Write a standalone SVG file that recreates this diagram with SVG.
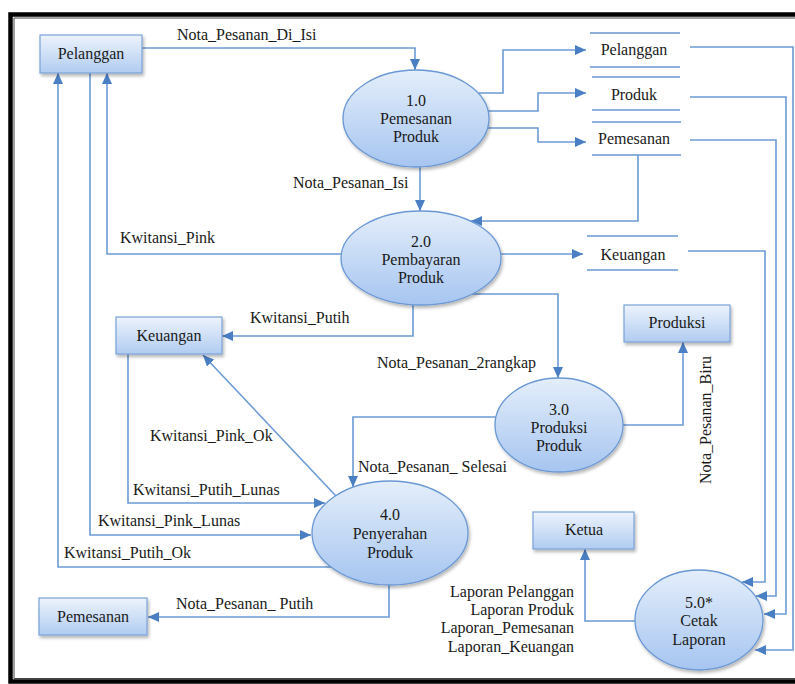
<svg xmlns="http://www.w3.org/2000/svg" width="795" height="684" viewBox="0 0 795 684">
  <defs>
    <linearGradient id="boxFill" x1="0" y1="0" x2="0" y2="1">
      <stop offset="0" stop-color="#edf3fc"/>
      <stop offset="1" stop-color="#b0ccf1"/>
    </linearGradient>
    <linearGradient id="procFill" x1="0" y1="0" x2="0" y2="1">
      <stop offset="0" stop-color="#e4eefb"/>
      <stop offset="1" stop-color="#a6c5f0"/>
    </linearGradient>
    <filter id="shadow" x="-20%" y="-20%" width="150%" height="160%">
      <feDropShadow dx="1.5" dy="2.5" stdDeviation="1.8" flood-color="#000" flood-opacity="0.28"/>
    </filter>
    <marker id="arrow" markerUnits="userSpaceOnUse" markerWidth="12" markerHeight="10" refX="11" refY="5" orient="auto">
      <path d="M0,0 L11,5 L0,10 z" fill="#4a7fc4"/>
    </marker>
    <style>
      text { font-family: "Liberation Serif", "Times New Roman", serif; font-size: 16px; fill: #1a1a1a; }
      .c { text-anchor: middle; }
      .r { text-anchor: end; }
      .box { fill: url(#boxFill); stroke: #7aa2d8; stroke-width: 1.2; filter: url(#shadow); }
      .proc { fill: url(#procFill); stroke: #6a98d4; stroke-width: 1.3; filter: url(#shadow); }
      .store { stroke: #6b96d2; stroke-width: 1.5; fill: none; }
      .flow { fill: none; stroke: #6c9bd6; stroke-width: 1.6; }
      .arr { marker-end: url(#arrow); }
    </style>
  </defs>

  <rect width="795" height="684" fill="#ffffff"/>

  <!-- page frame -->
  <path d="M795 14.5 H10.5 V681.5 H795" fill="none" stroke="#000" stroke-width="4.5"/>
  <path d="M795 18 H14 V678.5 H795" fill="none" stroke="#444" stroke-width="1"/>

  <!-- data flows -->
  <g id="connectors">
    <path class="flow arr" d="M142,48 H415 V70"/>
    <path class="flow arr" d="M479,93 H503 V50 H586"/>
    <path class="flow arr" d="M488,111 H538 V93 H586"/>
    <path class="flow arr" d="M487,128 H538 V142 H586"/>
    <path class="flow arr" d="M690,47 H793 V650 H755"/>
    <path class="flow arr" d="M690,97 H786 V614 H764"/>
    <path class="flow arr" d="M690,140 H776 V596 H756"/>
    <path class="flow arr" d="M688,251 H765 V582 H742"/>
    <path class="flow arr" d="M420,167 V211"/>
    <path class="flow arr" d="M638,155 V221 H471"/>
    <path class="flow arr" d="M341,254 H107 V73"/>
    <path class="flow arr" d="M501,254 H583"/>
    <path class="flow arr" d="M472,294 H558 V378"/>
    <path class="flow arr" d="M413,305 V336 H222"/>
    <path class="flow arr" d="M623,425 H683 V342"/>
    <path class="flow arr" d="M497,417 H353 V487"/>
    <path class="flow arr" d="M336,496 L203,355"/>
    <path class="flow arr" d="M128,354 V503 H325"/>
    <path class="flow arr" d="M90,73 V535 H311"/>
    <path class="flow arr" d="M331,567 H58 V73"/>
    <path class="flow arr" d="M389,585 V617 H148"/>
    <path class="flow arr" d="M635,621 H585 V549"/>

    <text x="177" y="40">Nota_Pesanan_Di_Isi</text>
    <text x="293" y="188">Nota_Pesanan_Isi</text>
    <text x="120" y="243">Kwitansi_Pink</text>
    <text x="250" y="323">Kwitansi_Putih</text>
    <text x="377" y="368">Nota_Pesanan_2rangkap</text>
    <text x="150" y="441">Kwitansi_Pink_Ok</text>
    <text x="358" y="472">Nota_Pesanan_ Selesai</text>
    <text x="133" y="495">Kwitansi_Putih_Lunas</text>
    <text x="98" y="526">Kwitansi_Pink_Lunas</text>
    <text x="64" y="558">Kwitansi_Putih_Ok</text>
    <text x="176" y="609">Nota_Pesanan_ Putih</text>
    <text class="c" transform="translate(711,420) rotate(-90)">Nota_Pesanan_Biru</text>
    <text class="r" x="574" y="597">Laporan Pelanggan</text>
    <text class="r" x="574" y="615">Laporan Produk</text>
    <text class="r" x="574" y="633">Laporan_Pemesanan</text>
    <text class="r" x="574" y="652">Laporan_Keuangan</text>
  </g>

  <!-- external entities -->
  <g id="ent-pelanggan">
    <rect class="box" x="40" y="35" width="102" height="38"/>
    <text class="c" x="91" y="59">Pelanggan</text>
  </g>
  <g id="ent-keuangan">
    <rect class="box" x="116" y="317" width="106" height="37"/>
    <text class="c" x="169" y="341">Keuangan</text>
  </g>
  <g id="ent-produksi">
    <rect class="box" x="624" y="305" width="106" height="37"/>
    <text class="c" x="677" y="328">Produksi</text>
  </g>
  <g id="ent-ketua">
    <rect class="box" x="533" y="512" width="101" height="37"/>
    <text class="c" x="584" y="535">Ketua</text>
  </g>
  <g id="ent-pemesanan">
    <rect class="box" x="39" y="598" width="108" height="37"/>
    <text class="c" x="93" y="622">Pemesanan</text>
  </g>

  <!-- processes -->
  <g id="proc-1">
    <ellipse class="proc" cx="416" cy="118.5" rx="73" ry="48.5"/>
    <text class="c" x="416" y="106">1.0</text>
    <text class="c" x="416" y="124">Pemesanan</text>
    <text class="c" x="416" y="142">Produk</text>
  </g>
  <g id="proc-2">
    <ellipse class="proc" cx="421" cy="258" rx="80" ry="47"/>
    <text class="c" x="421" y="247">2.0</text>
    <text class="c" x="421" y="265">Pembayaran</text>
    <text class="c" x="421" y="283">Produk</text>
  </g>
  <g id="proc-3">
    <ellipse class="proc" cx="559" cy="425" rx="64" ry="47"/>
    <text class="c" x="559" y="415">3.0</text>
    <text class="c" x="559" y="433">Produksi</text>
    <text class="c" x="559" y="451">Produk</text>
  </g>
  <g id="proc-4">
    <ellipse class="proc" cx="390" cy="533" rx="78" ry="52"/>
    <text class="c" x="390" y="520">4.0</text>
    <text class="c" x="390" y="539">Penyerahan</text>
    <text class="c" x="390" y="558">Produk</text>
  </g>
  <g id="proc-5">
    <ellipse class="proc" cx="699" cy="620" rx="64" ry="50"/>
    <text class="c" x="699" y="608">5.0*</text>
    <text class="c" x="699" y="626">Cetak</text>
    <text class="c" x="699" y="645">Laporan</text>
  </g>

  <!-- data stores -->
  <g id="store-pelanggan">
    <path class="store" d="M590,33 H680 M590,67 H680"/>
    <text class="c" x="634" y="55">Pelanggan</text>
  </g>
  <g id="store-produk">
    <path class="store" d="M592,77 H680 M592,110 H680"/>
    <text class="c" x="634" y="100">Produk</text>
  </g>
  <g id="store-pemesanan">
    <path class="store" d="M592,122 H681 M592,155 H681"/>
    <text class="c" x="634" y="144">Pemesanan</text>
  </g>
  <g id="store-keuangan">
    <path class="store" d="M587,236 H678 M587,270 H678"/>
    <text class="c" x="633" y="260">Keuangan</text>
  </g>
</svg>
